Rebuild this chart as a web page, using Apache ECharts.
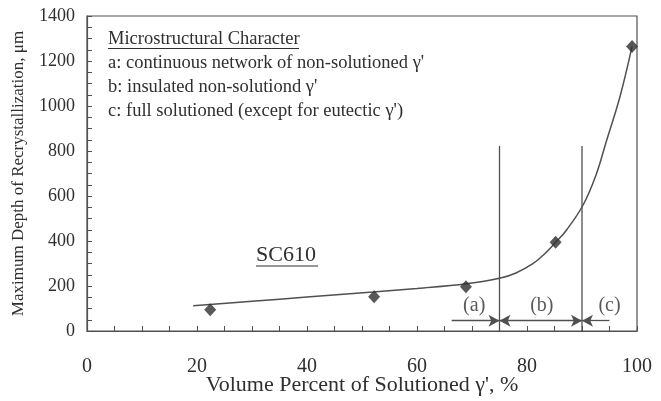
<!DOCTYPE html>
<html>
<head>
<meta charset="utf-8">
<script src="https://cdn.jsdelivr.net/npm/echarts@6/dist/echarts.min.js"></script>
<style>html,body{margin:0;padding:0;background:#fff;}#c{width:661px;height:401px;}</style>
</head>
<body>
<div id="c"></div>
<script>
// measured points
const pointX = [22.4, 52.2, 68.9, 85.2, 99.1];
const pointY = [95, 152, 197, 394, 1265];
// fitted curve
const curveX = [19.3, 30, 40, 52, 60, 69, 75, 78, 81, 83, 85.2, 87.2, 90.2, 92.5, 94.5, 96.9, 99.1];
const curveY = [112, 132, 151, 173, 189, 210, 234, 258, 298, 338, 394, 449, 560, 690, 849, 1041, 1265];
// region boundaries
const boundaryX = [75, 90];
const boundaryTop = 822;
// region arrows and labels
const regionLabels = ['(a)', '(b)', '(c)'];
const regionLabelX = [70.4, 82.7, 95];
const regionLabelY = 113;
const arrowY = 46;
const arrowStart = 66.3;
const arrowEnd = 95;
// text
const legendLines = [
  'Microstructural Character',
  "a: continuous network of non-solutioned \u03b3'",
  "b: insulated non-solutiond \u03b3'",
  "c: full solutioned (except for eutectic \u03b3')"
];
const alloyName = 'SC610';
const xName = "Volume Percent of Solutioned \u03b3', %";
const yName = 'Maximum Depth of Recrystallization, \u03bcm';

const ink = '#2f2f2f';
const lineInk = '#505050';
const serif = '"Liberation Serif", "DejaVu Serif", serif';

const chart = echarts.init(document.getElementById('c'));

const graphic = [];
legendLines.forEach((t, i) => {
  graphic.push({
    type: 'text', x: 108, y: 39 + i * 24,
    style: { text: t, font: '18.5px ' + serif, fill: ink, verticalAlign: 'middle', align: 'left' }
  });
});
graphic.push({ type: 'line', shape: { x1: 108, y1: 48.5, x2: 299, y2: 48.5 }, style: { stroke: ink, lineWidth: 1 } });
graphic.push({ type: 'text', x: 256, y: 255, style: { text: alloyName, font: '22px ' + serif, fill: ink, verticalAlign: 'middle', align: 'left' } });
graphic.push({ type: 'line', shape: { x1: 256, y1: 266, x2: 318, y2: 266 }, style: { stroke: ink, lineWidth: 1 } });

const option = {
  backgroundColor: '#fff',
  animation: false,
  grid: { left: 87, right: 24, top: 16, bottom: 70, outerBoundsMode: 'none', containLabel: false, show: true, borderColor: lineInk, borderWidth: 1.2 },
  xAxis: {
    type: 'value', min: 0, max: 100, interval: 20,
    name: xName, nameLocation: 'middle', nameGap: 43, nameMoveOverlap: false,
    nameTextStyle: { fontFamily: serif, fontSize: 22, color: ink },
    axisLine: { show: true, lineStyle: { color: lineInk, width: 1.2 } },
    axisTick: { show: true, inside: true, length: 5, lineStyle: { color: lineInk } },
    minorTick: { show: true, splitNumber: 4, length: 5, lineStyle: { color: lineInk } },
    axisLabel: { margin: 26, fontFamily: serif, fontSize: 20, color: ink },
    splitLine: { show: false }
  },
  yAxis: {
    type: 'value', min: 0, max: 1400, interval: 200,
    name: yName, nameLocation: 'middle', nameGap: 60, nameRotate: 90, nameMoveOverlap: false,
    nameTextStyle: { fontFamily: serif, fontSize: 17, color: ink },
    axisLine: { show: true, lineStyle: { color: lineInk, width: 1.2 } },
    axisTick: { show: true, inside: true, length: 5, lineStyle: { color: lineInk } },
    minorTick: { show: true, splitNumber: 4, length: 5, lineStyle: { color: lineInk } },
    axisLabel: { margin: 12, fontFamily: serif, fontSize: 18, color: ink, formatter: v => String(v) },
    splitLine: { show: false }
  },
  graphic: graphic,
  series: [
    {
      type: 'line', smooth: 0.4, showSymbol: false, symbol: 'none',
      data: curveX.map((x, i) => [x, curveY[i]]),
      lineStyle: { color: lineInk, width: 1.5 }, z: 2
    },
    ...boundaryX.map(bx => ({
      type: 'line', symbol: 'none',
      data: [[bx, 0], [bx, boundaryTop]],
      lineStyle: { color: lineInk, width: 1.3 }, z: 2
    })),
    {
      type: 'line', symbol: 'none', data: [],
      markLine: {
        silent: true, symbolSize: [9, 11], label: { show: false },
        lineStyle: { color: lineInk, width: 1.3, type: 'solid' },
        data: [
          [{ coord: [arrowStart, arrowY], symbol: 'none' }, { coord: [boundaryX[0], arrowY], symbol: 'arrow' }],
          [{ coord: [boundaryX[0], arrowY], symbol: 'arrow' }, { coord: [boundaryX[1], arrowY], symbol: 'arrow' }],
          [{ coord: [boundaryX[1], arrowY], symbol: 'arrow' }, { coord: [arrowEnd, arrowY], symbol: 'none' }]
        ]
      }
    },
    {
      type: 'scatter', symbol: 'circle', symbolSize: 1,
      itemStyle: { color: 'rgba(0,0,0,0)' },
      data: regionLabels.map((t, i) => ({ value: [regionLabelX[i], regionLabelY], name: t })),
      label: { show: true, position: 'inside', formatter: p => p.name, fontFamily: serif, fontSize: 20, color: ink },
      z: 3
    },
    {
      type: 'scatter', symbol: 'diamond', symbolSize: [12, 13],
      data: pointX.map((x, i) => [x, pointY[i]]),
      itemStyle: { color: '#2e2e2e' }, z: 4
    }
  ]
};
chart.setOption(option);
</script>
</body>
</html>
